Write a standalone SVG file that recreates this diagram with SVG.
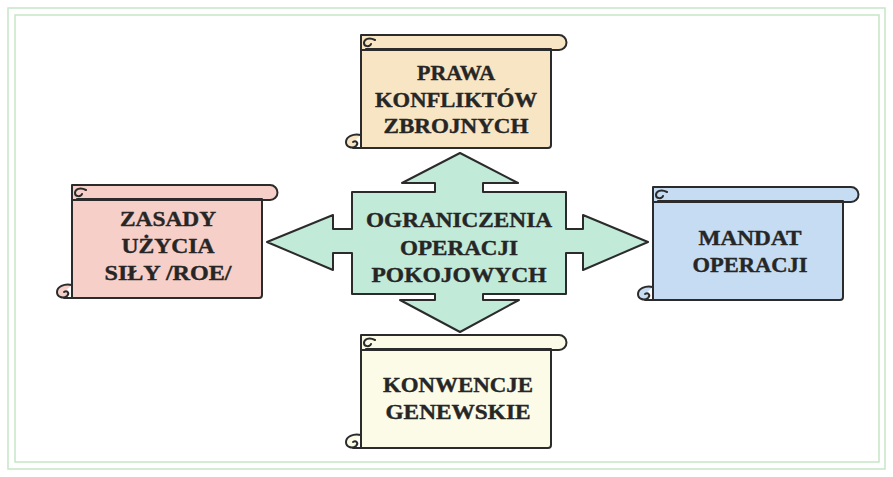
<svg xmlns="http://www.w3.org/2000/svg" xmlns:xlink="http://www.w3.org/1999/xlink" width="893" height="477" viewBox="0 0 893 477">
  <style>
    .frame { fill: none; stroke: #c6e6c6; stroke-width: 1.5; }
    .ink { stroke: #2b2b2b; stroke-width: 2; stroke-linejoin: round; stroke-linecap: round; }
    .curl { fill: none; stroke: #2b2b2b; stroke-width: 2; stroke-linecap: round; }
    .lbl { font-family: "Liberation Serif", "Times New Roman", serif; font-weight: bold; font-size: 22px; fill: #262626; stroke: #262626; stroke-width: 0.4; text-anchor: middle; }
  </style>
  <defs>
    <!-- parchment scroll, origin at top-left of the upper roll -->
    <g id="scroll">
      <path class="ink" d="M0,8 V113 H187 Q190,113 190,110 V8 Z"/>
      <path class="ink" d="M0,0 H198 A7.5,7.5 0 0 1 198,15 H0 Z"/>
      <path class="curl" d="M14,5 C8,2 3,4 3,8 C3,12 9,12 10,9 M5,14 H190"/>
      <path class="ink" d="M0,100 C-8,98 -15,102 -15,107 C-15,112 -9,114 -5,111 C-2,108 -5,105 -8,107" fill="inherit"/>
      <path class="curl" d="M-8,113 H0"/>
    </g>
  </defs>

  <rect width="893" height="477" fill="#ffffff"/>

  <!-- double page frame -->
  <rect class="frame" x="8" y="8" width="877" height="461"/>
  <rect class="frame" x="15" y="15" width="864" height="447"/>

  <!-- four-way arrow hub -->
  <g id="connectors">
    <polygon class="ink" fill="#c2ead8" points="460,153 518,183 483,183 483,192 566,192 566,229 583,229 583,215 648,242 583,270 583,253 566,253 566,294 483,294 483,300 519,300 460,332 400,300 435,300 435,294 352,294 352,253 333,253 333,270 267,242 333,215 333,229 352,229 352,192 435,192 435,183 402,183"/>
  </g>

  <g id="center">
    <text class="lbl" x="459" y="227" textLength="186" lengthAdjust="spacingAndGlyphs">OGRANICZENIA</text>
    <text class="lbl" x="459" y="255" textLength="118" lengthAdjust="spacingAndGlyphs">OPERACJI</text>
    <text class="lbl" x="459" y="282" textLength="175" lengthAdjust="spacingAndGlyphs">POKOJOWYCH</text>
  </g>

  <g id="top">
    <use xlink:href="#scroll" x="361" y="35" fill="#f8e5c3"/>
    <text class="lbl" x="456" y="80" textLength="78" lengthAdjust="spacingAndGlyphs">PRAWA</text>
    <text class="lbl" x="456" y="107" textLength="162" lengthAdjust="spacingAndGlyphs">KONFLIKTÓW</text>
    <text class="lbl" x="456" y="133" textLength="145" lengthAdjust="spacingAndGlyphs">ZBROJNYCH</text>
  </g>

  <g id="left">
    <use xlink:href="#scroll" x="72" y="185" fill="#f6d0c8"/>
    <text class="lbl" x="168" y="226" textLength="96" lengthAdjust="spacingAndGlyphs">ZASADY</text>
    <text class="lbl" x="168" y="253" textLength="93" lengthAdjust="spacingAndGlyphs">UŻYCIA</text>
    <text class="lbl" x="168" y="280" textLength="127" lengthAdjust="spacingAndGlyphs">SIŁY /ROE/</text>
  </g>

  <g id="right">
    <use xlink:href="#scroll" x="653" y="187" fill="#c6dcf2"/>
    <text class="lbl" x="750" y="245" textLength="103" lengthAdjust="spacingAndGlyphs">MANDAT</text>
    <text class="lbl" x="750" y="272" textLength="115" lengthAdjust="spacingAndGlyphs">OPERACJI</text>
  </g>

  <g id="bottom">
    <use xlink:href="#scroll" x="361" y="335" fill="#fcfbe8"/>
    <text class="lbl" x="458" y="392" textLength="150" lengthAdjust="spacingAndGlyphs">KONWENCJE</text>
    <text class="lbl" x="458" y="419" textLength="145" lengthAdjust="spacingAndGlyphs">GENEWSKIE</text>
  </g>
</svg>
